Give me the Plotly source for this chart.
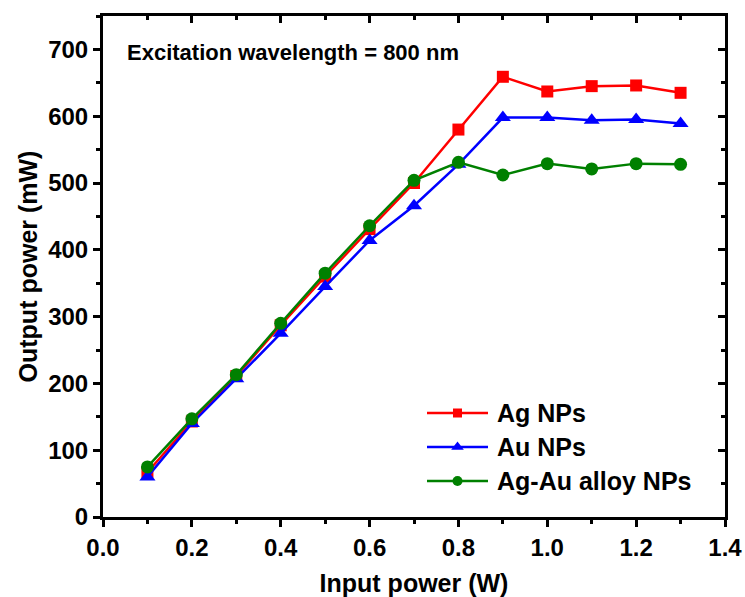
import plotly.graph_objects as go

# Input power (W)
input_power = [0.1, 0.2, 0.3, 0.4, 0.5, 0.6, 0.7, 0.8, 0.9, 1.0, 1.1, 1.2, 1.3]

# Output power (mW) for each nanoparticle type
ag_nps = [67, 143, 211, 287, 360, 431, 500, 580, 659, 637, 645, 646, 635]
au_nps = [60, 140, 207, 275, 345, 414, 466, 528, 598, 598, 594, 595, 589]
ag_au_alloy_nps = [75, 147, 213, 290, 365, 436, 504, 531, 512, 529, 521, 529, 528]

series_names = ["Ag NPs", "Au NPs", "Ag-Au alloy NPs"]
series_colors = ["#ff0000", "#0000ff", "#008000"]
series_symbols = ["square", "triangle-up", "circle"]
series_sizes = [12, 14, 13]
legend_sizes = [9, 11, 10]

x_ticks = [0.0, 0.2, 0.4, 0.6, 0.8, 1.0, 1.2, 1.4]
x_ticklabels = ["0.0", "0.2", "0.4", "0.6", "0.8", "1.0", "1.2", "1.4"]
y_ticks = [0, 100, 200, 300, 400, 500, 600, 700]

FONT = "Liberation Sans, Arial, sans-serif"
W, H = 745, 597

fig = go.Figure()
for name, ys, color, symbol, size in zip(
    series_names, [ag_nps, au_nps, ag_au_alloy_nps], series_colors, series_symbols, series_sizes
):
    fig.add_trace(go.Scatter(
        x=input_power, y=ys, name=name, mode="lines+markers", showlegend=False,
        line=dict(color=color, width=2.5),
        marker=dict(symbol=symbol, size=size, color=color, line=dict(width=0)),
    ))

# Legend drawn on a full-figure overlay axis measured in pixels
leg_x0, leg_x1, leg_text_x = 427, 488, 495
leg_rows = [413, 447, 481]
for name, color, symbol, size, yrow in zip(series_names, series_colors, series_symbols,
                                          legend_sizes, leg_rows):
    fig.add_trace(go.Scatter(
        x=[leg_x0, (leg_x0 + leg_x1) / 2, leg_x1], y=[yrow] * 3,
        xaxis="x3", yaxis="y3", mode="lines", showlegend=False, hoverinfo="skip",
        line=dict(color=color, width=2.5),
    ))
    fig.add_trace(go.Scatter(
        x=[(leg_x0 + leg_x1) / 2], y=[yrow], xaxis="x3", yaxis="y3", mode="markers",
        showlegend=False, hoverinfo="skip",
        marker=dict(symbol=symbol, size=size, color=color, line=dict(width=0)),
    ))

axis_common = dict(showgrid=False, zeroline=False, showline=True, automargin=False,
                   linecolor="black", linewidth=3, tickcolor="black", tickwidth=2.5)

legend_annotations = [
    dict(text=name, xref="x3", yref="y3", x=leg_text_x, y=yrow, xanchor="left",
         yanchor="middle", showarrow=False, font=dict(size=25, weight="bold", family=FONT))
    for name, yrow in zip(series_names, leg_rows)
]

fig.update_layout(
    width=W, height=H,
    margin=dict(l=103, r=20, t=16, b=80),
    paper_bgcolor="white", plot_bgcolor="white",
    font=dict(family=FONT, color="black", size=24, weight="bold"),
    showlegend=False,
    xaxis=dict(range=[0, 1.4], tickvals=x_ticks, ticktext=x_ticklabels,
               ticks="outside", ticklen=7,
               minor=dict(dtick=0.1, ticks="outside", ticklen=4, tickwidth=2.5, tickcolor="black"),
               title=dict(text="Input power (W)", font=dict(size=25, weight="bold"), standoff=16),
               tickfont=dict(size=24, weight="bold"), **axis_common),
    yaxis=dict(range=[0, 750], tickvals=y_ticks,
               ticks="outside", ticklen=7,
               minor=dict(dtick=50, ticks="outside", ticklen=4, tickwidth=2.5, tickcolor="black"),
               title=dict(text="Output power (mW)", font=dict(size=25, weight="bold"), standoff=4),
               tickfont=dict(size=24, weight="bold"), **axis_common),
    # mirrored frame with inward ticks on top and right
    xaxis2=dict(range=[0, 1.4], overlaying="x", side="top", tickvals=x_ticks,
                showticklabels=False, ticks="inside", ticklen=7,
                minor=dict(dtick=0.1, ticks="inside", ticklen=4, tickwidth=2.5, tickcolor="black"),
                **axis_common),
    yaxis2=dict(range=[0, 750], overlaying="y", side="right", tickvals=y_ticks,
                showticklabels=False, ticks="inside", ticklen=7,
                minor=dict(dtick=50, ticks="inside", ticklen=4, tickwidth=2.5, tickcolor="black"),
                **axis_common),
    # pixel-space overlay for the legend
    xaxis3=dict(range=[103, W - 20], overlaying="x", visible=False, fixedrange=True),
    yaxis3=dict(range=[H - 80, 16], overlaying="y", visible=False, fixedrange=True),
    annotations=[dict(text="Excitation wavelength = 800 nm", xref="paper", yref="paper",
                      x=0.035, y=0.927, xanchor="left", yanchor="middle", showarrow=False,
                      font=dict(size=22, weight="bold", family=FONT))] + legend_annotations,
)

# invisible trace to bring the mirrored axes into the layout
fig.add_trace(go.Scatter(x=[None], y=[None], xaxis="x2", yaxis="y2",
                         showlegend=False, hoverinfo="skip"))

fig.write_html("out.html")
